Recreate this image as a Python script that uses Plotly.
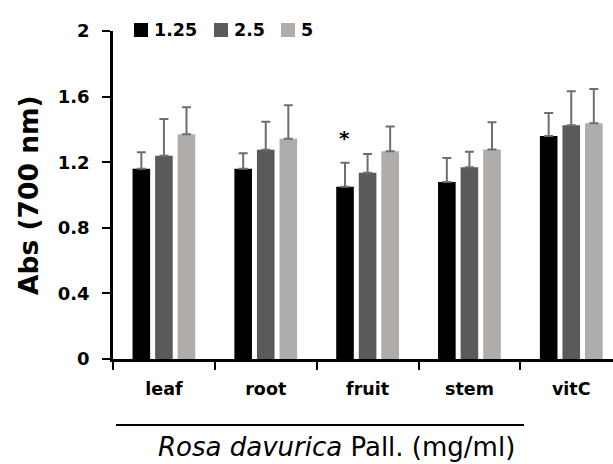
import plotly.graph_objects as go

categories = ["leaf", "root", "fruit", "stem", "vitC"]
series_names = ["1.25", "2.5", "5"]
vals_125 = [1.16, 1.16, 1.05, 1.08, 1.36]
err_125 = [0.10, 0.094, 0.147, 0.146, 0.14]
vals_25 = [1.24, 1.276, 1.135, 1.169, 1.425]
err_25 = [0.223, 0.171, 0.115, 0.095, 0.207]
vals_5 = [1.37, 1.343, 1.267, 1.277, 1.437]
err_5 = [0.165, 0.204, 0.15, 0.166, 0.209]
ytick_vals = [0, 0.4, 0.8, 1.2, 1.6, 2]
ytick_text = ["0", "0.4", "0.8", "1.2", "1.6", "2"]
star_category = "fruit"
star_y = 1.35

colors = ["#000000", "#5a5a5a", "#b0aca9"]
FONT = "DejaVu Sans"

W, H = 613, 464
L, R, T, B = 113, 0, 31, 105
pw = W - L - R
ph = H - T - B

def px_to_paper_x(px):
    return (px - L) / pw

def px_to_paper_y(py):
    return (H - B - py) / ph

fig = go.Figure()
for name, v, e, c in zip(series_names, [vals_125, vals_25, vals_5],
                         [err_125, err_25, err_5], colors):
    fig.add_trace(go.Bar(
        x=categories, y=v, name=name, marker=dict(color=c, line=dict(width=0)),
        error_y=dict(type="data", array=e, arrayminus=[0]*len(e), symmetric=False,
                     color="#6e6e6e", thickness=2, width=4.5),
        showlegend=False,
    ))

# manual legend
leg_x = [134, 214, 281]
for name, c, lx in zip(series_names, colors, leg_x):
    fig.add_shape(type="rect", xref="paper", yref="paper",
                  x0=px_to_paper_x(lx), x1=px_to_paper_x(lx + 14),
                  y0=px_to_paper_y(37), y1=px_to_paper_y(23),
                  fillcolor=c, line=dict(width=0))
    fig.add_annotation(text=f"<b>{name}</b>", xref="paper", yref="paper",
                       x=px_to_paper_x(lx + 18), y=px_to_paper_y(30),
                       xanchor="left", yanchor="middle", showarrow=False,
                       font=dict(family=FONT, size=17.5, color="black"))

# significance star
fig.add_annotation(text="<b>*</b>", x=star_category, y=star_y, xshift=-23,
                   showarrow=False, font=dict(family=FONT, size=20, color="black"),
                   yanchor="middle")

# y title
fig.add_annotation(text="<b>Abs (700 nm)</b>", xref="paper", yref="paper",
                   x=px_to_paper_x(28), y=px_to_paper_y(195), textangle=-90,
                   showarrow=False, xanchor="center", yanchor="middle",
                   font=dict(family=FONT, size=26.5, color="black"))

# group underline
fig.add_shape(type="line", xref="paper", yref="paper",
              x0=px_to_paper_x(116), x1=px_to_paper_x(524),
              y0=px_to_paper_y(425), y1=px_to_paper_y(425),
              line=dict(color="black", width=2))

# x title
fig.add_annotation(text="<i>Rosa davurica</i> Pall. (mg/ml)", xref="paper", yref="paper",
                   x=px_to_paper_x(336), y=px_to_paper_y(447),
                   showarrow=False, xanchor="center", yanchor="middle",
                   font=dict(family=FONT, size=26, color="black"))

fig.update_layout(
    width=W, height=H, margin=dict(l=L, r=R, t=T, b=B, pad=0),
    paper_bgcolor="white", plot_bgcolor="white",
    barmode="group", bargap=0.335, bargroupgap=0.22,
    font=dict(family=FONT, color="black"),
)
fig.update_xaxes(type="category", range=[-0.5, 4.41], tickson="boundaries",
                 ticks="outside", ticklen=8, tickwidth=2, tickcolor="black",
                 showline=True, linecolor="black", linewidth=2.5, showgrid=False,
                 ticklabelstandoff=12,
                 tickfont=dict(family=FONT, size=17.5, color="black"),
                 ticktext=[f"<b>{c}</b>" for c in categories], tickvals=categories)
fig.update_yaxes(range=[0, 2], tickvals=ytick_vals, ticktext=[f"<b>{t}</b>" for t in ytick_text],
                 ticks="outside", ticklen=8, tickwidth=2, tickcolor="black",
                 showline=True, linecolor="black", linewidth=2.5, showgrid=False,
                 zeroline=False, ticklabelstandoff=9,
                 tickfont=dict(family=FONT, size=18, color="black"))

fig.write_html("out.html")
